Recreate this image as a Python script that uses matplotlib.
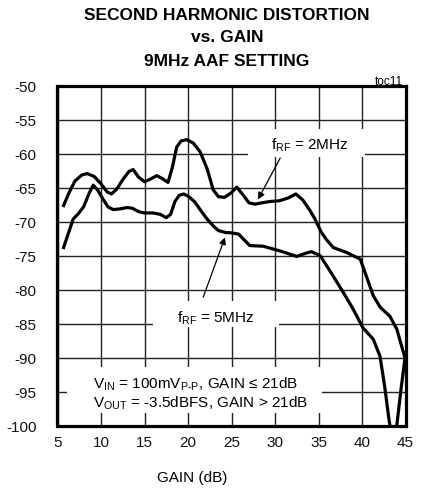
import matplotlib
matplotlib.use("Agg")
import matplotlib.pyplot as plt
from matplotlib import font_manager
from matplotlib.patches import Rectangle

names = {f.name for f in font_manager.fontManager.ttflist}
narrow = 'Liberation Sans Narrow' if 'Liberation Sans Narrow' in names else 'Liberation Sans'
plt.rcParams['font.family'] = ['Liberation Sans', 'DejaVu Sans']

# Data
gain_2mhz = [5.7, 6.3, 7.0, 7.8, 8.4, 9.2, 10.0, 10.7, 11.2, 11.8, 12.5, 13.2, 13.7, 14.3,
             15.0, 15.7, 16.4, 17.0, 17.7, 18.2, 18.7, 19.2, 19.85, 20.6, 21.4, 22.2, 22.9,
             23.5, 24.2, 24.9, 25.6, 26.3, 27.0, 27.7, 28.5, 29.5, 30.5, 31.5, 32.4, 33.2,
             34.0, 34.6, 35.3, 35.9, 36.7, 38.2, 39.8, 40.5, 41.3, 42.1, 43.2, 44.0, 45.0]
hd2_2mhz = [-67.6, -65.8, -64.0, -63.1, -62.9, -63.3, -64.4, -65.6, -65.9, -65.2, -63.8,
            -62.6, -62.3, -63.4, -64.1, -63.7, -63.2, -63.6, -64.2, -62.0, -59.0, -58.1,
            -57.9, -58.4, -59.7, -62.2, -65.3, -66.3, -66.4, -65.8, -64.9, -66.0, -67.2,
            -67.4, -67.2, -67.0, -66.9, -66.5, -65.9, -66.8, -68.3, -69.6, -71.5, -72.6,
            -73.8, -74.5, -75.5, -78.0, -80.9, -82.6, -83.9, -85.8, -90.3]

gain_5mhz = [5.7, 6.3, 6.8, 7.4, 8.0, 8.6, 9.1, 9.6, 10.2, 10.8, 11.4, 12.2, 13.0, 13.6,
             14.3, 15.0, 16.0, 16.8, 17.5, 18.0, 18.5, 19.0, 19.5, 20.1, 20.8, 21.5, 22.2,
             22.9, 23.5, 24.4, 24.8, 25.8, 27.1, 28.65, 30.6, 32.5, 33.6, 34.2, 35.2, 36.3,
             37.85, 39.0, 40.1, 41.3, 42.07, 42.6, 43.1, 43.6, 44.0, 44.5, 45.0]
hd2_5mhz = [-73.8, -71.5, -69.6, -68.8, -67.8, -65.9, -64.6, -65.3, -66.6, -67.8, -68.2,
            -68.1, -67.9, -68.0, -68.5, -68.7, -68.7, -68.9, -69.4, -68.9, -67.0, -66.1,
            -65.9, -66.3, -67.1, -68.4, -69.6, -70.6, -71.3, -71.6, -71.6, -71.8, -73.5,
            -73.6, -74.3, -75.1, -74.6, -74.4, -75.0, -77.2, -80.4, -82.9, -85.6, -87.3,
            -89.8, -94.2, -99.1, -103.0, -100.0, -94.5, -89.5]

x_ticks = [5, 10, 15, 20, 25, 30, 35, 40, 45]
y_ticks = [-50, -55, -60, -65, -70, -75, -80, -85, -90, -95, -100]

W, H = 422, 489
fig = plt.figure(figsize=(W / 100, H / 100), dpi=100)
ax = fig.add_axes([57.5 / W, 1 - 426.5 / H, 348 / W, 339.5 / H])
ax.set_xlim(5, 45)
ax.set_ylim(-100, -50)
ax.set_xticks(x_ticks)
ax.set_yticks(y_ticks)
ax.set_xticklabels([str(v) for v in x_ticks])
ax.set_yticklabels([str(v) for v in y_ticks])
ax.tick_params(length=0, labelsize=11, colors='#111111')
ax.tick_params(axis='x', pad=7)
ax.tick_params(axis='y', pad=15)
ax.grid(True, color='#222222', linewidth=1.0, zorder=1)
ax.set_axisbelow(True)
for s in ax.spines.values():
    s.set_linewidth(2.3)
    s.set_color('black')
    s.set_zorder(6)

# white masks behind annotations
for (x0, x1, y0, y1) in [(26.9, 40.4, -60.5, -56.3), (16.0, 30.5, -85.5, -81.7),
                         (6.1, 35.4, -98.2, -91.4)]:
    ax.add_patch(Rectangle((x0, y0), x1 - x0, y1 - y0, facecolor='white',
                           edgecolor='none', zorder=2))

ax.plot(gain_2mhz, hd2_2mhz, color='black', lw=2.3, zorder=4, solid_joinstyle='round')
ax.plot(gain_5mhz, hd2_5mhz, color='black', lw=2.3, zorder=4, solid_joinstyle='round')

ax.text(34.0, -58.6, r'f$_{\mathregular{RF}}$ = 2MHz', fontsize=11, ha='center',
        va='center', zorder=5)
ax.annotate('', xy=(28.05, -66.7), xytext=(30.6, -60.6),
            arrowprops=dict(arrowstyle='-|>', color='black', lw=0.9,
                            mutation_scale=10, shrinkA=0, shrinkB=0), zorder=5)
ax.text(23.2, -84.0, r'f$_{\mathregular{RF}}$ = 5MHz', fontsize=11, ha='center',
        va='center', zorder=5)
ax.annotate('', xy=(24.25, -72.3), xytext=(21.75, -81.1),
            arrowprops=dict(arrowstyle='-|>', color='black', lw=0.9,
                            mutation_scale=10, shrinkA=0, shrinkB=0), zorder=5)
ax.text(9.1, -93.7, 'V$_{\\mathregular{IN}}$ = 100mV$_{\\mathregular{P\u2010P}}$, GAIN ≤ 21dB',
        fontsize=11, ha='left', va='center', zorder=5)
ax.text(9.1, -96.6, r'V$_{\mathregular{OUT}}$ = -3.5dBFS, GAIN > 21dB',
        fontsize=11, ha='left', va='center', zorder=5)

title_lines = ['SECOND HARMONIC DISTORTION', 'vs. GAIN', '9MHz AAF SETTING']
for t, yy in zip(title_lines, [15, 38, 62]):
    fig.text(227 / W, 1 - yy / H, t, ha='center', va='center', fontsize=12.5,
             fontweight='bold', family=narrow)
fig.text(403 / W, 1 - 82 / H, 'toc11', ha='right', va='center', fontsize=8.5)
fig.text(192 / W, 1 - 478 / H, 'GAIN (dB)', ha='center', va='center', fontsize=11)

fig.savefig('out.png', dpi=100)
